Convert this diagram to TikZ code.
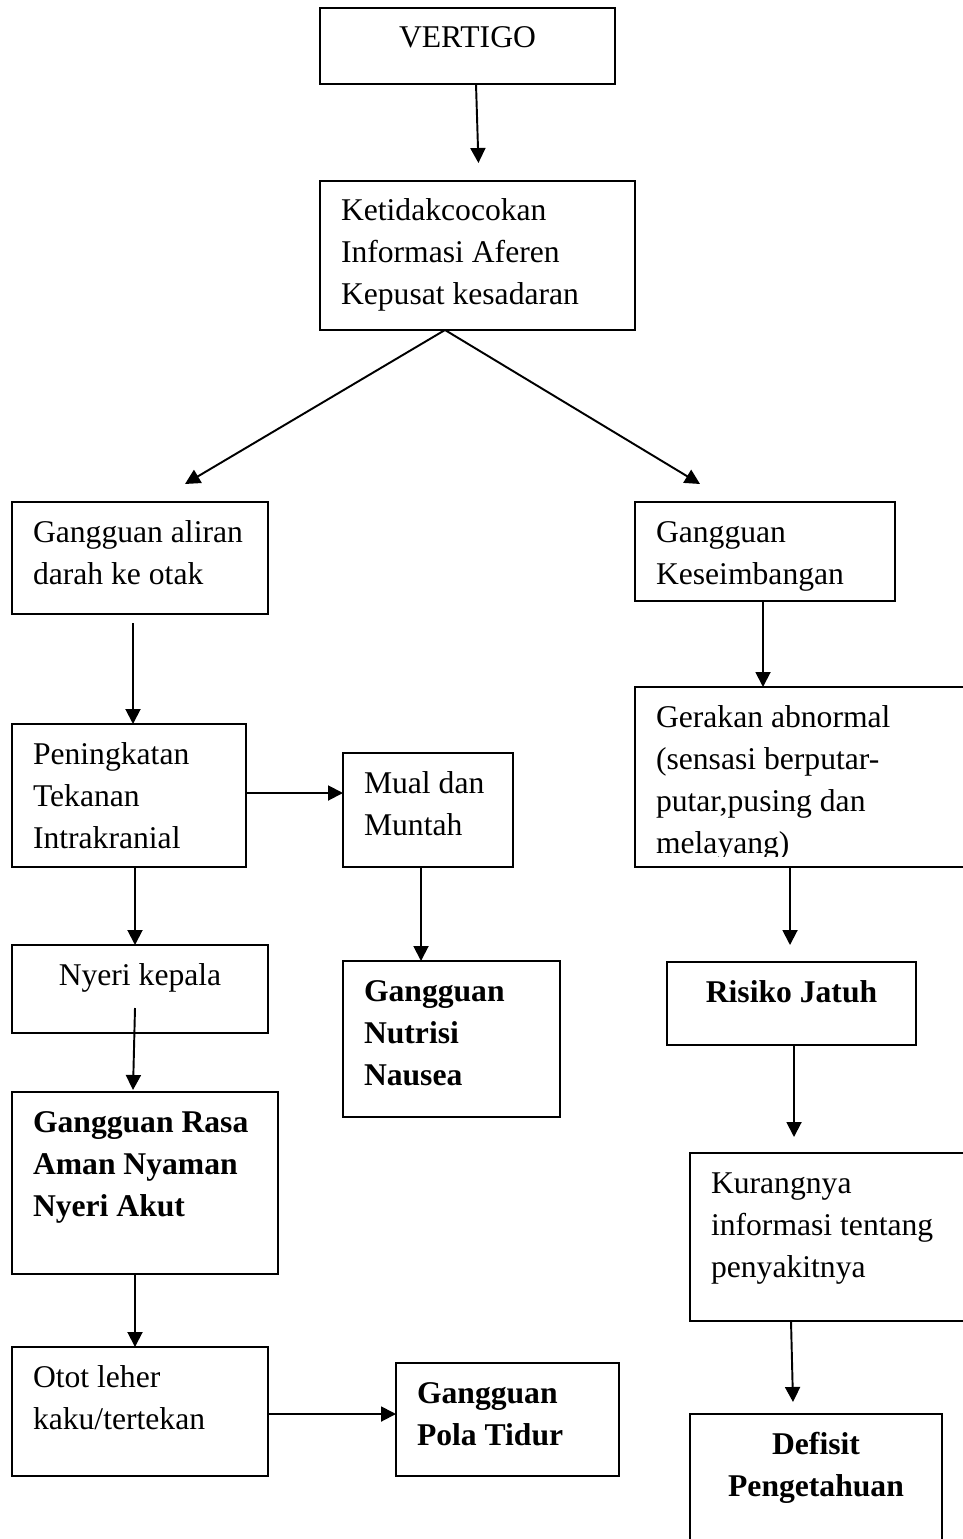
\documentclass[tikz,border=0pt]{standalone}
\usepackage{fontspec}
\setmainfont{Liberation Serif}
\usetikzlibrary{arrows.meta}
\tikzset{
	kotak/.style={draw,rectangle,line width=1.3pt,anchor=north west,outer sep=0pt,inner xsep=0.42cm,inner ysep=0pt,text height=0.8cm,align=flush left,font=\fontsize{18pt}{23.9pt}\selectfont},
	tebal/.style={font=\fontsize{18pt}{23.9pt}\selectfont\bfseries},
	panah/.style={line width=1.1pt,-{Triangle[length=0.3cm,width=0.3cm]}}
}
\begin{document}
\begin{tikzpicture}
	\useasboundingbox (0,0) rectangle (19.26,-30.78) ;
	\node[kotak,align=flush center,text width=5.06cm,text depth=0.72cm] (Vertigo) at (6.40,-0.16) {VERTIGO} ;
	\node[kotak,text width=5.46cm,text depth=2.18cm] (Aferen) at (6.40,-3.62) {Ketidakcocokan\\Informasi Aferen\\Kepusat kesadaran} ;
	\node[kotak,text width=4.28cm,text depth=1.44cm] (Aliran) at (0.24,-10.04) {Gangguan aliran\\darah ke otak} ;
	\node[kotak,text width=4.36cm,text depth=1.18cm] (Keseimbangan) at (12.70,-10.04) {Gangguan\\Keseimbangan} ;
	\node[kotak,text width=3.84cm,text depth=2.06cm] (Tekanan) at (0.24,-14.48) {Peningkatan\\Tekanan\\Intrakranial} ;
	\node[kotak,text width=2.56cm,text depth=1.48cm] (Mual) at (6.86,-15.06) {Mual dan\\Muntah} ;
	\node[kotak,text width=6.46cm,text depth=2.80cm] (Gerakan) at (12.70,-13.74) {Gerakan abnormal\\(sensasi berputar-\\putar,pusing dan\\melayang)} ;
	\node[kotak,align=flush center,text width=4.28cm,text depth=0.96cm] (Nyeri) at (0.24,-18.90) {Nyeri kepala} ;
	\node[kotak,tebal,text width=3.50cm,text depth=2.32cm] (Nutrisi) at (6.86,-19.22) {Gangguan\\Nutrisi\\Nausea} ;
	\node[kotak,tebal,align=flush center,text width=4.14cm,text depth=0.86cm] (Risiko) at (13.34,-19.24) {Risiko Jatuh} ;
	\node[kotak,tebal,text width=4.48cm,text depth=2.84cm] (RasaAman) at (0.24,-21.84) {Gangguan Rasa\\Aman Nyaman\\Nyeri Akut} ;
	\node[kotak,text width=5.36cm,text depth=2.56cm] (Kurang) at (13.80,-23.06) {Kurangnya\\informasi tentang\\penyakitnya} ;
	\node[kotak,text width=4.28cm,text depth=1.78cm] (Otot) at (0.24,-26.94) {Otot leher\\kaku/tertekan} ;
	\node[kotak,tebal,text width=3.62cm,text depth=1.46cm] (PolaTidur) at (7.92,-27.26) {Gangguan\\Pola Tidur} ;
	\node[kotak,tebal,align=flush center,text width=4.20cm,text depth=2.92cm] (Defisit) at (13.80,-28.28) {Defisit\\Pengetahuan} ;
	% ujung teks yang terpotong
	\fill[white] ([xshift=1pt,yshift=0.65pt]Gerakan.south west) rectangle ([xshift=-1pt,yshift=0.20cm]Gerakan.south east) ;
	% panah
	\draw[panah,shorten >=0.36cm] ([xshift=0.17cm]Vertigo.south) -- ([xshift=0.03cm]Aferen.north) ;
	\draw[panah] ([xshift=-0.65cm]Aferen.south) -- ([xshift=0.90cm,yshift=0.36cm]Aliran.north) ;
	\draw[panah] ([xshift=-0.65cm]Aferen.south) -- ([xshift=-1.30cm,yshift=0.36cm]Keseimbangan.north) ;
	\draw[panah] ([xshift=-0.14cm,yshift=-0.18cm]Aliran.south) -- ([xshift=0.08cm]Tekanan.north) ;
	\draw[panah] ([xshift=-0.04cm]Keseimbangan.south) -- ([xshift=2.56cm]Gerakan.north west) ;
	\draw[panah] ([yshift=0.05cm]Tekanan.east) -- ([yshift=0.05cm]Tekanan.east -| Mual.west) ;
	\draw[panah] ([xshift=0.12cm]Tekanan.south) -- ([xshift=0.12cm]Tekanan.south |- Nyeri.north) ;
	\draw[panah] ([xshift=-0.14cm]Mual.south) -- ([xshift=-0.14cm]Mual.south |- Nutrisi.north) ;
	\draw[panah,shorten >=0.34cm] ([xshift=3.10cm]Gerakan.south west) -- ([xshift=3.10cm]Gerakan.south west |- Risiko.north) ;
	\draw[panah] ([xshift=-0.10cm,yshift=0.50cm]Nyeri.south) -- ([xshift=-0.24cm,yshift=0.04cm]RasaAman.north) ;
	\draw[panah] ([xshift=-0.20cm]RasaAman.south) -- ([xshift=-0.20cm]RasaAman.south |- Otot.north) ;
	\draw[panah] ([yshift=-0.05cm]Otot.east) -- ([yshift=-0.05cm]Otot.east -| PolaTidur.west) ;
	\draw[panah,shorten >=0.32cm] ([xshift=0.05cm]Risiko.south) -- ([xshift=0.05cm]Risiko.south |- Kurang.north) ;
	\draw[panah] ([xshift=2.02cm]Kurang.south west) -- ([xshift=-0.46cm,yshift=0.24cm]Defisit.north) ;
\end{tikzpicture}
\end{document}
